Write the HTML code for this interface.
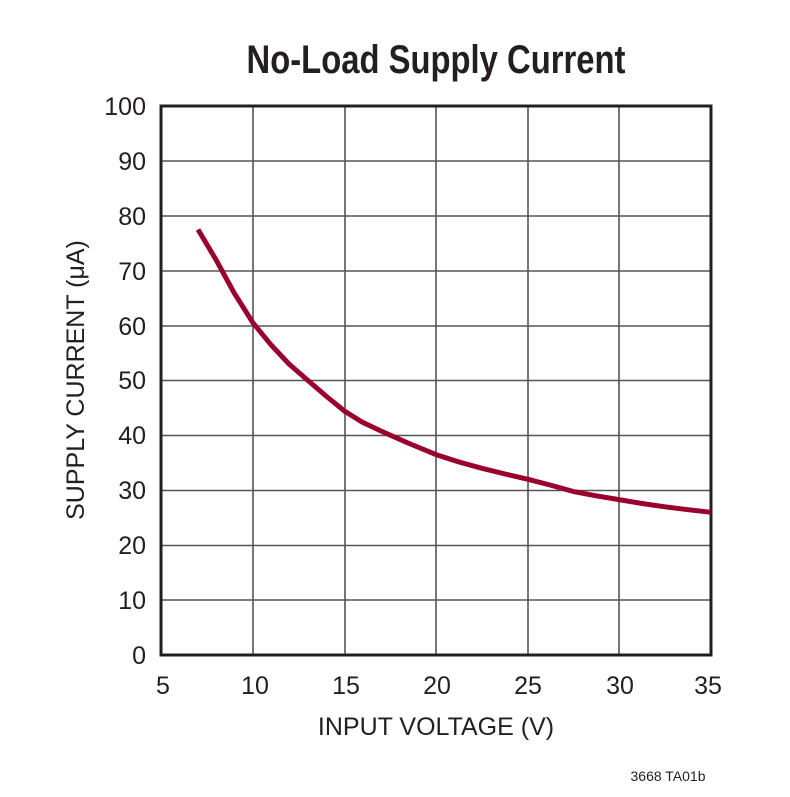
<!DOCTYPE html>
<html><head><meta charset="utf-8"><style>body{margin:0;background:#fff}</style></head>
<body>
<svg width="790" height="792" xmlns="http://www.w3.org/2000/svg" font-family="Liberation Sans, sans-serif">
<rect width="790" height="792" fill="#fff"/>
<text x="436" y="73" text-anchor="middle" font-size="40" font-weight="bold" fill="#231f20" transform="translate(436 0) scale(0.82 1) translate(-436 0)">No-Load Supply Current</text>
<g stroke="#555" stroke-width="1.6">
<line x1="253" y1="106" x2="253" y2="655"/><line x1="345" y1="106" x2="345" y2="655"/><line x1="436" y1="106" x2="436" y2="655"/><line x1="528" y1="106" x2="528" y2="655"/><line x1="619" y1="106" x2="619" y2="655"/>
<line x1="161" y1="161" x2="711" y2="161"/><line x1="161" y1="216" x2="711" y2="216"/><line x1="161" y1="271" x2="711" y2="271"/><line x1="161" y1="326" x2="711" y2="326"/><line x1="161" y1="380.5" x2="711" y2="380.5"/><line x1="161" y1="435.5" x2="711" y2="435.5"/><line x1="161" y1="490.5" x2="711" y2="490.5"/><line x1="161" y1="545.5" x2="711" y2="545.5"/><line x1="161" y1="600" x2="711" y2="600"/>
</g>
<rect x="161" y="106" width="550" height="549" fill="none" stroke="#231f20" stroke-width="3"/>
<polyline fill="none" stroke="#99002e" stroke-width="5" stroke-linejoin="round" points="198,229.5 216,259.7 234,292.7 253,322.9 271,344.8 289,364 308,380.5 326,396 344,410.7 362,422 381,431 408,443 436,454.6 459,462 482,468.3 505,474 528,479.3 550,485 573,491.4 596,495.8 619,499.6 642,503.5 665,506.8 688,509.7 711,512.3"/>
<g font-size="25" fill="#231f20" text-anchor="end">
<text x="146" y="115">100</text><text x="146" y="170">90</text><text x="146" y="225">80</text><text x="146" y="280">70</text><text x="146" y="335">60</text><text x="146" y="389">50</text><text x="146" y="444">40</text><text x="146" y="499">30</text><text x="146" y="554">20</text><text x="146" y="609">10</text><text x="146" y="664">0</text>
</g>
<g font-size="25" fill="#231f20" text-anchor="middle">
<text x="163" y="694">5</text><text x="255" y="694">10</text><text x="346" y="694">15</text><text x="437" y="694">20</text><text x="528" y="694">25</text><text x="620" y="694">30</text><text x="708" y="694">35</text>
<text x="436" y="735">INPUT VOLTAGE (V)</text>
<text transform="translate(84 380) rotate(-90)">SUPPLY CURRENT (μA)</text>
</g>
<text x="668" y="781" font-size="14" fill="#231f20" text-anchor="middle">3668 TA01b</text>
</svg>
</body></html>
